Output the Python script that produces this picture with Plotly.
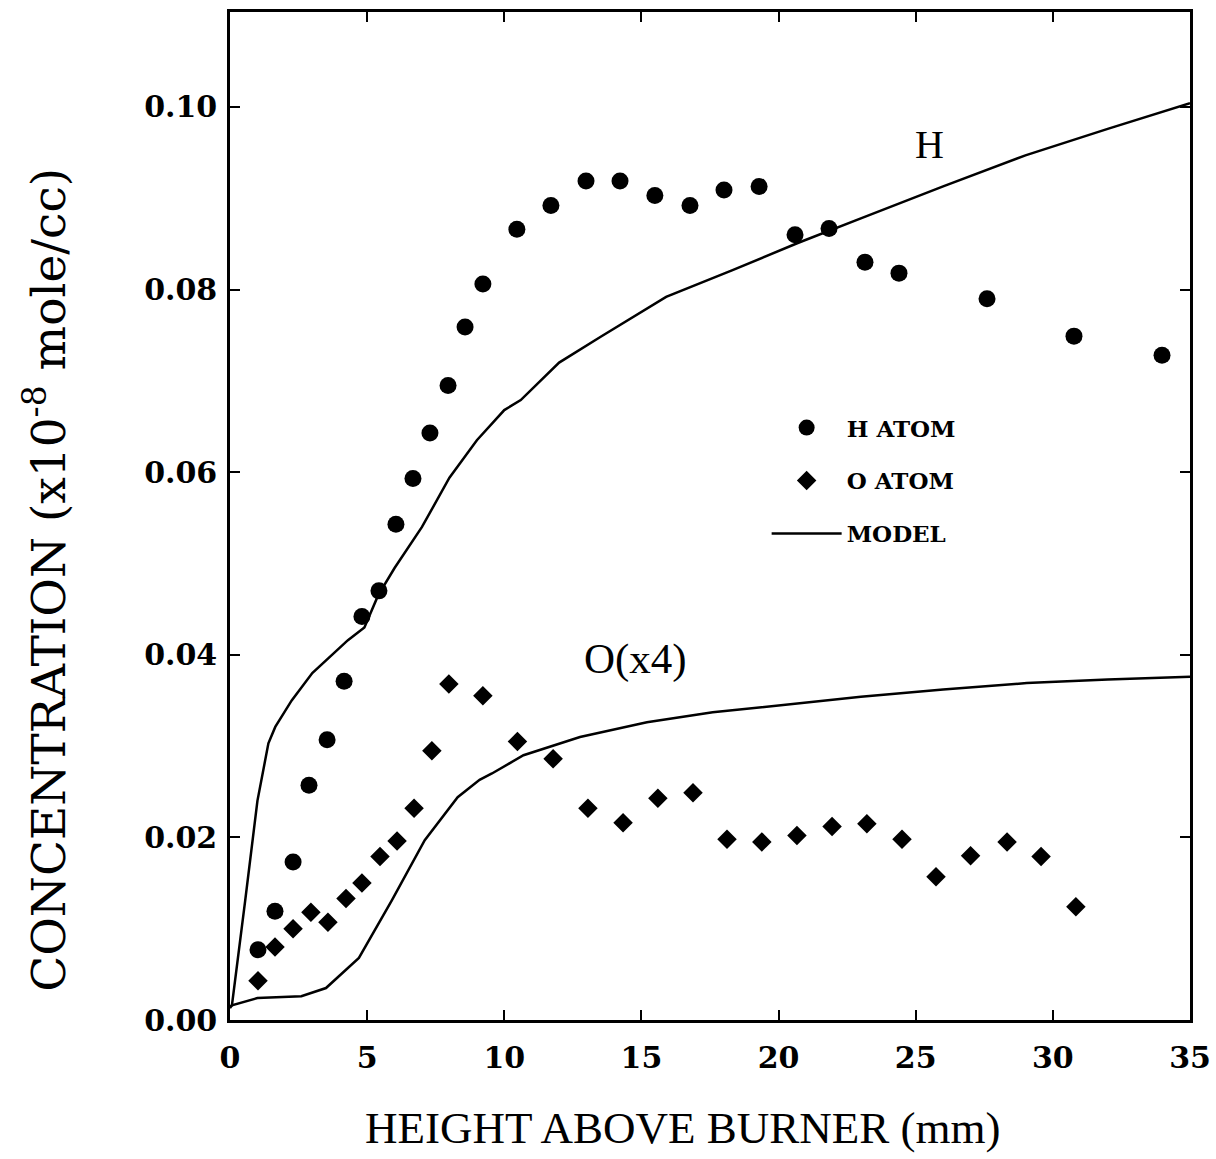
import plotly.graph_objects as go

# ---- data ----
h_x = [1.02, 1.64, 2.30, 2.88, 3.54, 4.16, 4.81, 5.43, 6.05, 6.67, 7.29, 7.95, 8.57, 9.22,
       10.46, 11.70, 12.98, 14.22, 15.49, 16.77, 18.01, 19.29, 20.60, 21.84, 23.15, 24.39,
       27.60, 30.77, 33.98]
h_y = [0.0077, 0.0119, 0.0173, 0.0257, 0.0307, 0.0371, 0.0442, 0.0470, 0.0543, 0.0593,
       0.0643, 0.0695, 0.0759, 0.0806, 0.0866, 0.0892, 0.0919, 0.0919, 0.0903, 0.0892,
       0.0909, 0.0913, 0.0860, 0.0867, 0.0830, 0.0818, 0.0790, 0.0749, 0.0728]

o_x = [1.02, 1.64, 2.30, 2.95, 3.57, 4.23, 4.81, 5.47, 6.09, 6.71, 7.36, 7.98, 9.22, 10.48,
       11.78, 13.05, 14.33, 15.60, 16.88, 18.12, 19.39, 20.67, 21.95, 23.22, 24.50, 25.74,
       27.00, 28.33, 29.57, 30.84]
o_y = [0.0043, 0.0080, 0.0100, 0.0118, 0.0107, 0.0133, 0.0150, 0.0179, 0.0196, 0.0232,
       0.0295, 0.0368, 0.0355, 0.0305, 0.0286, 0.0232, 0.0216, 0.0243, 0.0249, 0.0198,
       0.0195, 0.0202, 0.0212, 0.0215, 0.0198, 0.0157, 0.0180, 0.0195, 0.0179, 0.0124]

h_model_x = [0.0, 0.07, 0.55, 1.0, 1.4, 1.65, 2.25, 3.0, 4.3, 4.9, 5.4, 6.0, 7.0, 8.0, 9.0,
             10.0, 10.6, 12.0, 13.5, 15.9, 18.3, 20.7, 23.0, 26.0, 29.0, 32.0, 35.0]
h_model_y = [0.0015, 0.0016, 0.0130, 0.0240, 0.0303, 0.0321, 0.0350, 0.0380, 0.0416, 0.0430,
             0.0465, 0.0495, 0.0540, 0.0594, 0.0635, 0.0668, 0.0679, 0.0720, 0.0748, 0.0792,
             0.0821, 0.0851, 0.0878, 0.0913, 0.0947, 0.0976, 0.1004]

o_model_x = [0.0, 0.07, 1.0, 2.0, 2.6, 3.5, 4.7, 5.9, 7.1, 8.3, 9.1, 9.55, 10.7, 12.76,
             15.2, 17.6, 20.05, 23.0, 26.0, 29.05, 32.0, 35.0]
o_model_y = [0.0013, 0.0016, 0.0024, 0.0025, 0.0026, 0.0035, 0.0068, 0.0131, 0.0197, 0.0244,
             0.0263, 0.0270, 0.0290, 0.0310, 0.0326, 0.0337, 0.0345, 0.0354, 0.0362, 0.0369,
             0.0373, 0.0376]

x_ticks = [0, 5, 10, 15, 20, 25, 30, 35]
y_ticks = [0.00, 0.02, 0.04, 0.06, 0.08, 0.10]

BOLD = dict(family="DejaVu Serif", size=30, color="black", weight="bold")

fig = go.Figure()
fig.add_trace(go.Scatter(x=h_x, y=h_y, mode="markers", name="H ATOM", legendgroup="a",
                         marker=dict(symbol="circle", size=17, color="black")))
fig.add_trace(go.Scatter(x=o_x, y=o_y, mode="markers", name="O ATOM", legendgroup="b",
                         marker=dict(symbol="diamond", size=15, color="black")))
fig.add_trace(go.Scatter(x=h_model_x, y=h_model_y, mode="lines", name="MODEL", legendgroup="c",
                         line=dict(color="black", width=2.5)))
fig.add_trace(go.Scatter(x=o_model_x, y=o_model_y, mode="lines", name="MODEL", legendgroup="c",
                         showlegend=False, line=dict(color="black", width=2.5)))

fig.add_annotation(x=25.5, y=0.0959, text="H", showarrow=False,
                   font=dict(family="Liberation Serif", size=40, color="black"))
fig.add_annotation(x=14.8, y=0.0395, text="O(x4)", showarrow=False,
                   font=dict(family="Liberation Serif", size=43, color="black"))

fig.add_annotation(xref="paper", yref="paper", x=0.471, y=-0.107, yanchor="middle",
                   text="HEIGHT ABOVE BURNER (mm)", showarrow=False,
                   font=dict(family="Liberation Serif", size=45, color="black"))
fig.add_annotation(xref="paper", yref="paper", x=-0.192, y=0.4365, xanchor="center",
                   yanchor="middle", textangle=-90,
                   text="CONCENTRATION (x10<sup>-8</sup> mole/cc)",
                   showarrow=False,
                   font=dict(family="DejaVu Serif", size=47, color="black"))

axis_common = dict(showgrid=False, zeroline=False, showline=True, linecolor="black",
                   linewidth=2.5, mirror="ticks", ticks="inside", ticklen=10,
                   tickwidth=2, tickcolor="black", tickfont=BOLD, automargin=False)

fig.update_xaxes(range=[0, 35], tickvals=x_ticks, ticklabelstandoff=9, **axis_common)
fig.update_yaxes(range=[0, 0.1104], tickvals=y_ticks, tickformat=".2f",
                 ticklabelstandoff=4, **axis_common)

fig.update_layout(
    width=1216, height=1159,
    margin=dict(l=230, r=26, t=12, b=139),
    paper_bgcolor="white", plot_bgcolor="white",
    showlegend=True,
    legend=dict(x=0.559, y=0.609, xanchor="left", yanchor="top",
                bgcolor="rgba(0,0,0,0)", traceorder="grouped", tracegroupgap=20,
                itemwidth=70,
                font=dict(family="DejaVu Serif", size=23, color="black", weight="bold")),
)

fig.write_html("out.html")
